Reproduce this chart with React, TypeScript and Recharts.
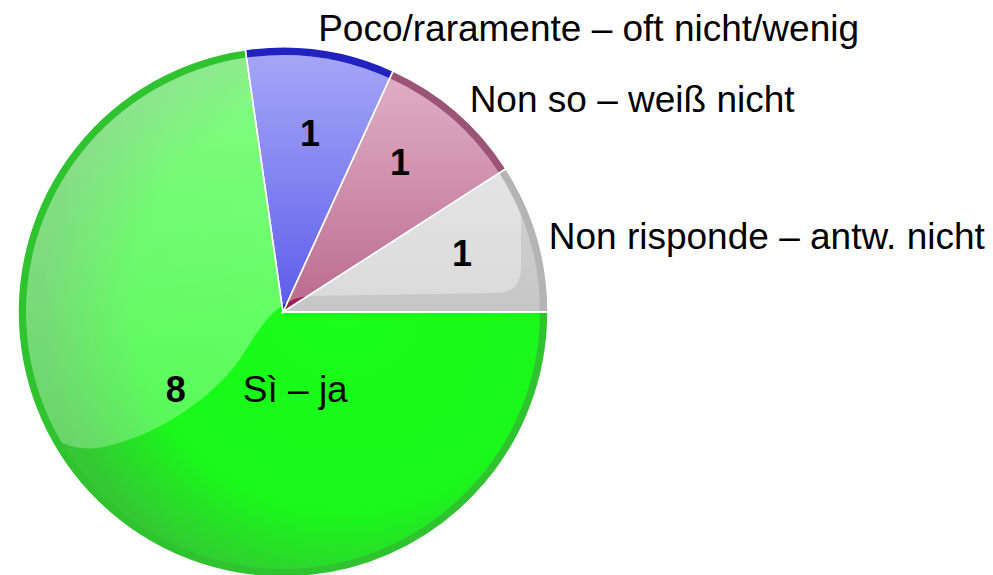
import { PieChart, Pie, Cell } from "recharts";

// answers, counter-clockwise from 3 o'clock
const categories = [
  "Non risponde – antw. nicht",
  "Non so – weiß nicht",
  "Poco/raramente – oft nicht/wenig",
  "Sì – ja",
];
const counts = [1, 1, 1, 8];

const RIM_COLORS = ["#b4b4b4", "#9a5476", "#2222c0", "#2fc42f"];
const FILL_IDS = ["gGrey", "gMauve", "gBlue", "gGreen"];

const W = 993;
const H = 575;
const CX = 283;
const CY = 312;
const R = 265;
const RIM = 8;

const data = categories.map((name, i) => ({ name, value: counts[i] }));

const RAD = Math.PI / 180;
const polar = (cx: number, cy: number, r: number, deg: number) => ({
  x: cx + r * Math.cos(deg * RAD),
  y: cy - r * Math.sin(deg * RAD),
});

// glossy highlight over the upper-left part of the pie
const glossPath = [
  `M ${CX - R - 10} ${CY + 90}`,
  `Q ${CX - 225} ${CY + 145} ${CX - 180} ${CY + 135}`,
  `C ${CX - 130} ${CY + 125} ${CX - 75} ${CY + 90} ${CX - 45} ${CY + 50}`,
  `C ${CX - 25} ${CY + 20} ${CX - 10} ${CY - 12} ${CX + 25} ${CY - 16}`,
  `L ${CX + 215} ${CY - 19}`,
  `Q ${CX + 238} ${CY - 20} ${CX + 238} ${CY - 45}`,
  `L ${CX + 238} ${CY - 110}`,
  `L ${CX + R + 20} ${CY - R - 20}`,
  `L ${CX - R - 20} ${CY - R - 20}`,
  "Z",
].join(" ");

const FONT = "'Liberation Sans', Arial, sans-serif";

function renderLabel(props: any) {
  const { cx, cy, midAngle, outerRadius, index, name, value } = props;
  if (index === 3) {
    const p = polar(cx, cy, outerRadius * 0.5, 216);
    return (
      <g key={`lbl-${index}`}>
        <text x={p.x} y={p.y} textAnchor="middle" dominantBaseline="central"
          fontFamily={FONT} fontSize={36} fontWeight="bold" fill="#000">
          {value}
        </text>
        <text x={p.x + 67} y={p.y} textAnchor="start" dominantBaseline="central"
          fontFamily={FONT} fontSize={37} fill="#000">
          {name}
        </text>
      </g>
    );
  }
  const v = polar(cx, cy, outerRadius * [0.71, 0.715, 0.683][index], midAngle + [1.6, 2.8, -0.4][index]);
  const gap = [12, 20, 24][index];
  const n = polar(cx, cy, outerRadius + gap, midAngle);
  return (
    <g key={`lbl-${index}`}>
      <text x={v.x} y={v.y} textAnchor="middle" dominantBaseline="central"
        fontFamily={FONT} fontSize={36} fontWeight="bold" fill="#000">
        {value}
      </text>
      <text x={n.x - (index === 2 ? 6 : 0)} y={n.y + 3} textAnchor="start" dominantBaseline="central"
        fontFamily={FONT} fontSize={37} fill="#000">
        {name}
      </text>
    </g>
  );
}

export default function App() {
  return (
    <div style={{ position: "absolute", left: 0, top: 0, background: "#fff" }}>
      <PieChart width={W} height={H} margin={{ top: 0, right: 0, bottom: 0, left: 0 }}>
        <defs>
          <linearGradient id="gGrey" x1="0" y1="0" x2="0" y2="1">
            <stop offset="0%" stopColor="#d2d2d2" />
            <stop offset="100%" stopColor="#c6c6c6" />
          </linearGradient>
          <linearGradient id="gMauve" x1="0" y1="0" x2="0" y2="1">
            <stop offset="0%" stopColor="#c46894" />
            <stop offset="100%" stopColor="#981e52" />
          </linearGradient>
          <linearGradient id="gBlue" x1="0" y1="0" x2="0" y2="1">
            <stop offset="0%" stopColor="#5656f0" />
            <stop offset="100%" stopColor="#0808e0" />
          </linearGradient>
          <radialGradient id="gGreen" gradientUnits="userSpaceOnUse" cx={CX + 60} cy={CY - 10} r={300}>
            <stop offset="0%" stopColor="#18ff18" />
            <stop offset="70%" stopColor="#1af81a" />
            <stop offset="100%" stopColor="#34c834" />
          </radialGradient>
          <linearGradient id="glossFill" gradientUnits="userSpaceOnUse" x1="0" y1={CY - R} x2="0" y2={CY + 140}>
            <stop offset="0%" stopColor="#fff" stopOpacity={0.47} />
            <stop offset="100%" stopColor="#fff" stopOpacity={0.26} />
          </linearGradient>
          <clipPath id="gloss">
            <path d={glossPath} />
          </clipPath>
        </defs>
        {/* darker rim */}
        <Pie data={data} dataKey="value" nameKey="name" cx={CX} cy={CY} outerRadius={R}
          startAngle={0} endAngle={360} stroke="none" isAnimationActive={false}>
          {data.map((d, i) => (
            <Cell key={d.name} fill={RIM_COLORS[i]} />
          ))}
        </Pie>
        {/* slice body */}
        <Pie data={data} dataKey="value" nameKey="name" cx={CX} cy={CY} outerRadius={R - RIM}
          startAngle={0} endAngle={360} stroke="none" isAnimationActive={false}>
          {data.map((d, i) => (
            <Cell key={d.name} fill={`url(#${FILL_IDS[i]})`} />
          ))}
        </Pie>
        {/* gloss */}
        <Pie data={data} dataKey="value" nameKey="name" cx={CX} cy={CY} outerRadius={R - RIM}
          startAngle={0} endAngle={360} stroke="none" isAnimationActive={false}>
          {data.map((d) => (
            <Cell key={d.name} fill="url(#glossFill)" clipPath="url(#gloss)" />
          ))}
        </Pie>
        {/* separators + labels */}
        <Pie data={data} dataKey="value" nameKey="name" cx={CX} cy={CY} outerRadius={R}
          startAngle={0} endAngle={360} fill="none" stroke="#fff" strokeWidth={1.5}
          labelLine={false} label={renderLabel} isAnimationActive={false} />
      </PieChart>
    </div>
  );
}
